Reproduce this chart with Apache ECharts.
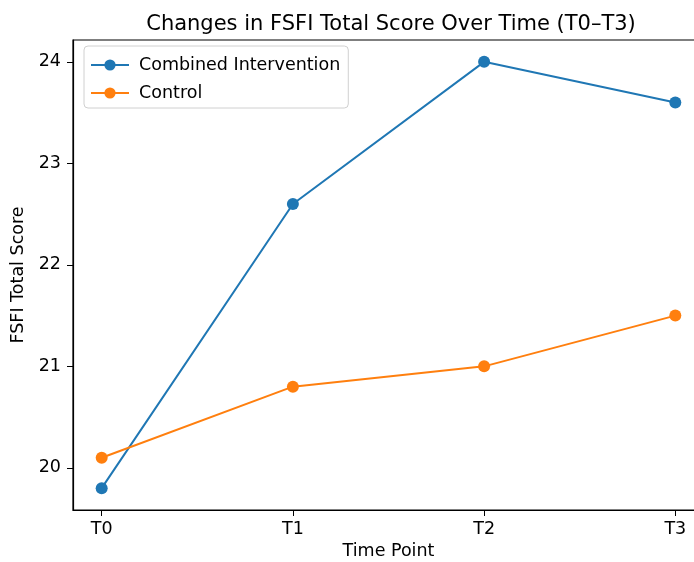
<!DOCTYPE html>
<html><head><meta charset="utf-8">
<script src="https://cdn.jsdelivr.net/npm/echarts@6/dist/echarts.min.js"></script>
<style>html,body{margin:0;padding:0;background:#fff}#c{width:694px;height:562px}</style>
</head><body><div id="c"></div>
<script>
const categories = ['T0', 'T1', 'T2', 'T3'];
const combined = [19.8, 22.6, 24.0, 23.6];
const control = [20.1, 20.8, 21.0, 21.5];
const yTicks = [20, 21, 22, 23, 24];
const xTicks = [0, 1, 2, 3];

const F = 'DejaVu Sans';
const FS = 17.5;
const chart = echarts.init(document.getElementById('c'));
const toPairs = arr => arr.map((v, i) => [i, v]);
chart.setOption({
  animation: false,
  backgroundColor: '#fff',
  title: {
    text: 'Changes in FSFI Total Score Over Time (T0–T3)',
    left: 386, top: 9, textAlign: 'center',
    textStyle: { fontFamily: F, fontSize: 21, fontWeight: 'normal', color: '#000' }
  },
  grid: { left: 73, width: 631, top: 40, bottom: 52, outerBoundsMode: 'none', show: true, borderColor: '#000', borderWidth: 1.2 },
  legend: {
    orient: 'vertical', left: 84, top: 46,
    data: ['Combined Intervention', 'Control'],
    itemWidth: 38, itemHeight: 14, itemGap: 8,
    padding: [9, 8, 5, 6],
    borderColor: '#d0d0d0', borderWidth: 1, borderRadius: 4,
    backgroundColor: '#fff',
    textStyle: { fontFamily: F, fontSize: FS, color: '#000', lineHeight: 20, padding: [0, 0, 0, 5] }
  },
  xAxis: {
    type: 'value', min: -0.15, max: 3.15,
    name: 'Time Point', nameLocation: 'middle', nameGap: 32,
    nameTextStyle: { fontFamily: F, fontSize: FS, color: '#000' },
    axisLine: { show: true, onZero: false, lineStyle: { color: '#000', width: 1.2 } },
    axisTick: { show: true, length: 6, customValues: xTicks, lineStyle: { color: '#000' } },
    axisLabel: { customValues: xTicks, formatter: v => categories[Math.round(v)], fontFamily: F, fontSize: FS, color: '#000', margin: 10 },
    splitLine: { show: false }
  },
  yAxis: {
    type: 'value', min: 19.585, max: 24.215,
    name: 'FSFI Total Score', nameLocation: 'middle', nameGap: 39, nameRotate: 90,
    nameTextStyle: { fontFamily: F, fontSize: FS, color: '#000' },
    axisLine: { show: true, onZero: false, lineStyle: { color: '#000', width: 1.2 } },
    axisTick: { show: true, length: 6, customValues: yTicks, lineStyle: { color: '#000' } },
    axisLabel: { customValues: yTicks, fontFamily: F, fontSize: FS, color: '#000', margin: 12 },
    splitLine: { show: false }
  },
  series: [
    { name: 'Combined Intervention', type: 'line', data: toPairs(combined), color: '#1f77b4',
      symbol: 'circle', symbolSize: 12, lineStyle: { width: 2 }, itemStyle: { color: '#1f77b4' } },
    { name: 'Control', type: 'line', data: toPairs(control), color: '#ff7f0e',
      symbol: 'circle', symbolSize: 12, lineStyle: { width: 2 }, itemStyle: { color: '#ff7f0e' } }
  ]
});
</script></body></html>
